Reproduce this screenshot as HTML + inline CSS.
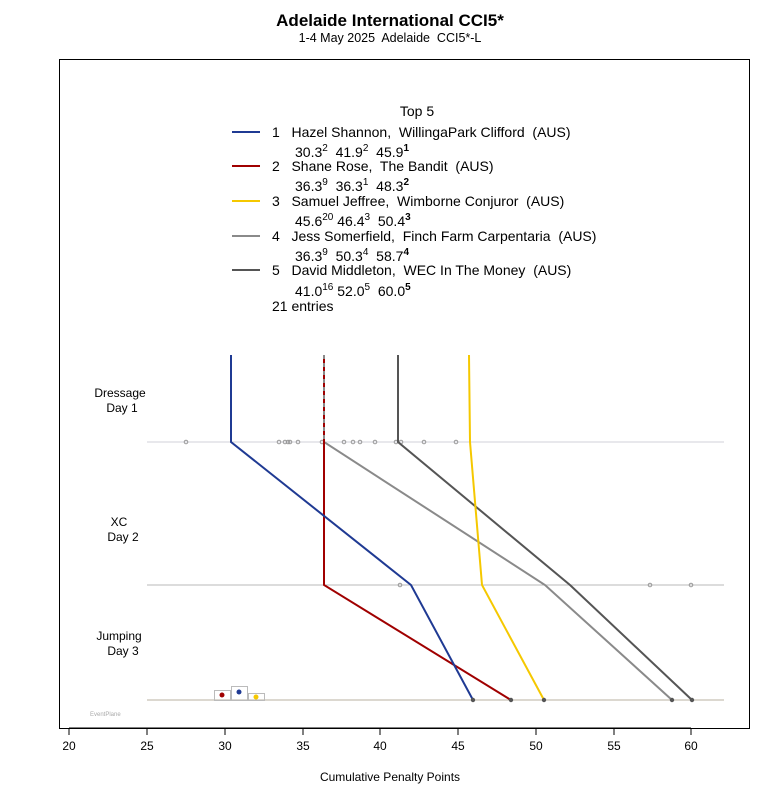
<!DOCTYPE html><html><head><style>body{margin:0;background:#fff}svg{display:block;font-family:"Liberation Sans",sans-serif}text{white-space:pre}</style></head><body>
<svg width="780" height="800" viewBox="0 0 780 800">
<text x="390" y="26" font-size="17" font-weight="bold" text-anchor="middle">Adelaide International CCI5*</text>
<text x="390" y="42" font-size="12.5" text-anchor="middle">1-4 May 2025  Adelaide  CCI5*-L</text>
<rect x="59.5" y="59.5" width="690" height="669" fill="none" stroke="#000"/>
<g font-size="14">
<text x="417" y="116" text-anchor="middle">Top 5</text>
<line x1="232" y1="132" x2="260" y2="132" stroke="#1f3a93" stroke-width="2"/>
<text x="272" y="137">1   Hazel Shannon,  WillingaPark Clifford  (AUS)</text>
<text x="295" y="157">30.3<tspan font-size="10" dy="-6">2</tspan><tspan dy="6">  41.9</tspan><tspan font-size="10" dy="-6">2</tspan><tspan dy="6">  45.9</tspan><tspan font-size="10" dy="-6" font-weight="bold">1</tspan></text>
<line x1="232" y1="166" x2="260" y2="166" stroke="#a00000" stroke-width="2"/>
<text x="272" y="171">2   Shane Rose,  The Bandit  (AUS)</text>
<text x="295" y="191">36.3<tspan font-size="10" dy="-6">9</tspan><tspan dy="6">  36.3</tspan><tspan font-size="10" dy="-6">1</tspan><tspan dy="6">  48.3</tspan><tspan font-size="10" dy="-6" font-weight="bold">2</tspan></text>
<line x1="232" y1="201" x2="260" y2="201" stroke="#f5c800" stroke-width="2"/>
<text x="272" y="206">3   Samuel Jeffree,  Wimborne Conjuror  (AUS)</text>
<text x="295" y="226">45.6<tspan font-size="10" dy="-6">20</tspan><tspan dy="6"> 46.4</tspan><tspan font-size="10" dy="-6">3</tspan><tspan dy="6">  50.4</tspan><tspan font-size="10" dy="-6" font-weight="bold">3</tspan></text>
<line x1="232" y1="236" x2="260" y2="236" stroke="#8a8a8a" stroke-width="2"/>
<text x="272" y="241">4   Jess Somerfield,  Finch Farm Carpentaria  (AUS)</text>
<text x="295" y="261">36.3<tspan font-size="10" dy="-6">9</tspan><tspan dy="6">  50.3</tspan><tspan font-size="10" dy="-6">4</tspan><tspan dy="6">  58.7</tspan><tspan font-size="10" dy="-6" font-weight="bold">4</tspan></text>
<line x1="232" y1="270" x2="260" y2="270" stroke="#555" stroke-width="2"/>
<text x="272" y="275">5   David Middleton,  WEC In The Money  (AUS)</text>
<text x="295" y="296">41.0<tspan font-size="10" dy="-6">16</tspan><tspan dy="6"> 52.0</tspan><tspan font-size="10" dy="-6">5</tspan><tspan dy="6">  60.0</tspan><tspan font-size="10" dy="-6" font-weight="bold">5</tspan></text>
<text x="272" y="311">21 entries</text>
</g>
<g font-size="12" text-anchor="middle">
<text x="120" y="397">Dressage</text><text x="122" y="412">Day 1</text>
<text x="119" y="526">XC</text><text x="123" y="541">Day 2</text>
<text x="119" y="640">Jumping</text><text x="123" y="655">Day 3</text>
</g>
<line x1="147" y1="442" x2="724" y2="442" stroke="#d0d0d8"/>
<line x1="147" y1="585" x2="724" y2="585" stroke="#b8b8b8"/>
<line x1="147" y1="700" x2="724" y2="700" stroke="#b8b0a0"/>
<g fill="none" stroke="#999" stroke-width="1">
<circle cx="186" cy="442" r="1.8"/><circle cx="279" cy="442" r="1.8"/><circle cx="285" cy="442" r="1.8"/><circle cx="288" cy="442" r="1.8"/><circle cx="290" cy="442" r="1.8"/><circle cx="298" cy="442" r="1.8"/><circle cx="322" cy="442" r="1.8"/><circle cx="344" cy="442" r="1.8"/><circle cx="353" cy="442" r="1.8"/><circle cx="360" cy="442" r="1.8"/><circle cx="375" cy="442" r="1.8"/><circle cx="396" cy="442" r="1.8"/><circle cx="401" cy="442" r="1.8"/><circle cx="424" cy="442" r="1.8"/><circle cx="456" cy="442" r="1.8"/>
<circle cx="400" cy="585" r="1.8"/><circle cx="650" cy="585" r="1.8"/><circle cx="691" cy="585" r="1.8"/>
</g>
<g fill="none" stroke-width="2">
<polyline points="398,355 398,442 570,585 692,700" stroke="#555"/>
<polyline points="324,355 324,442 545,585 672,700" stroke="#8a8a8a"/>
<polyline points="469,355 470,442 482,585 544,700" stroke="#f5c800"/>
<polyline points="324,355 324,585 511,700" stroke="#a00000"/>
<line x1="324" y1="355" x2="324" y2="442" stroke="#8a8a8a" stroke-dasharray="4,4"/>
<polyline points="231,355 231,442 411,585 473,700" stroke="#1f3a93"/>
</g>
<circle cx="473" cy="700" r="2.2" fill="#555"/><circle cx="511" cy="700" r="2.2" fill="#555"/><circle cx="544" cy="700" r="2.2" fill="#555"/><circle cx="672" cy="700" r="2.2" fill="#555"/><circle cx="692" cy="700" r="2.2" fill="#555"/>
<g fill="none" stroke="#bbb">
<rect x="214.5" y="690.5" width="16" height="10"/><rect x="231.5" y="686.5" width="16" height="14"/><rect x="248.5" y="693.5" width="16" height="7"/>
</g>
<circle cx="222" cy="695" r="2.5" fill="#a00000"/><circle cx="239" cy="692" r="2.5" fill="#1f3a93"/><circle cx="256" cy="697" r="2.5" fill="#f5c800"/>
<text x="90" y="716" font-size="6" fill="#aaa">EventPlane</text>
<g stroke="#000"><line x1="69" y1="728" x2="691" y2="728"/>
<line x1="69" y1="728" x2="69" y2="735"/><line x1="147" y1="728" x2="147" y2="735"/><line x1="225" y1="728" x2="225" y2="735"/><line x1="303" y1="728" x2="303" y2="735"/><line x1="380" y1="728" x2="380" y2="735"/><line x1="458" y1="728" x2="458" y2="735"/><line x1="536" y1="728" x2="536" y2="735"/><line x1="614" y1="728" x2="614" y2="735"/><line x1="691" y1="728" x2="691" y2="735"/></g>
<g font-size="12" text-anchor="middle">
<text x="69" y="750">20</text><text x="147" y="750">25</text><text x="225" y="750">30</text><text x="303" y="750">35</text><text x="380" y="750">40</text><text x="458" y="750">45</text><text x="536" y="750">50</text><text x="614" y="750">55</text><text x="691" y="750">60</text>
<text x="390" y="781">Cumulative Penalty Points</text></g>
</svg></body></html>
